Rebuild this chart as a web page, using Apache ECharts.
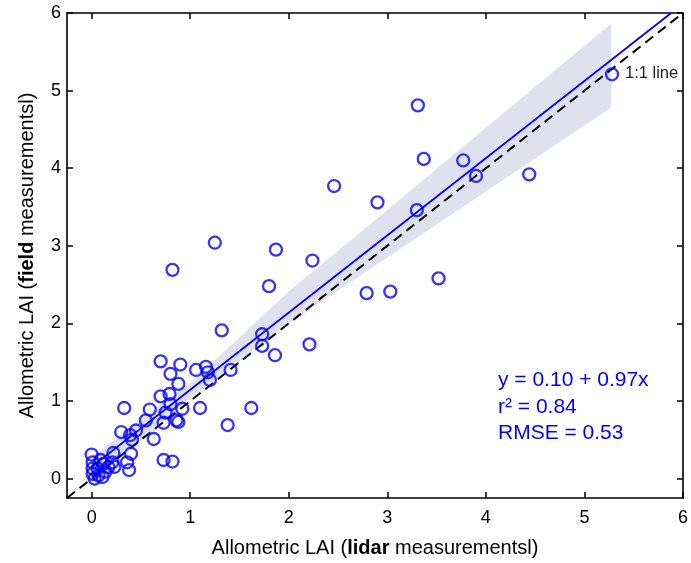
<!DOCTYPE html>
<html>
<head>
<meta charset="utf-8">
<script src="https://cdn.jsdelivr.net/npm/echarts@6/dist/echarts.min.js"></script>
<style>html,body{margin:0;padding:0;background:#fff;}#c{width:691px;height:563px;}</style>
</head>
<body>
<div id="c"></div>
<script>
// ---- data ----
const lidarLAI = [5.28,3.31,3.37,3.77,3.90,4.44,2.90,3.30,2.46,1.25,1.87,2.24,0.82,1.80,2.79,3.03,3.52,1.32,1.73,1.73,1.86,2.21,0.70,0.90,1.06,1.16,1.18,1.20,1.41,0.80,0.88,0.70,0.79,0.80,0.92,1.10,1.62,1.38,0.33,0.59,0.55,0.75,0.73,0.86,0.88,0.45,0.39,0.41,0.30,0.63,0.40,0.36,0.38,0.22,0.23,0.73,0.82,0.00,0.01,0.01,0.06,0.12,0.21,0.14,0.01,0.07,0.11,0.03,0.17,0.09];
const fieldLAI = [5.21,4.81,4.12,4.10,3.90,3.92,3.56,3.46,3.77,3.04,2.95,2.81,2.69,2.48,2.39,2.41,2.58,1.91,1.86,1.71,1.59,1.73,1.51,1.47,1.40,1.44,1.37,1.27,1.40,1.35,1.22,1.06,1.09,0.96,0.90,0.91,0.91,0.69,0.91,0.89,0.75,0.85,0.72,0.75,0.73,0.62,0.56,0.50,0.60,0.51,0.32,0.21,0.11,0.33,0.15,0.24,0.22,0.31,0.21,0.13,0.13,0.19,0.21,0.09,0.06,0.04,0.02,0.00,0.15,0.24];
const fitX = [0, 5.88];
const fitY = [0.15, 6.0];
const oneToOne = [-0.25, 6];
const bandX = [0, 1, 2, 3, 4, 5.27];
const bandLo = [-0.05, 1.03, 2.0, 2.85, 3.70, 4.78];
const bandHi = [0.28, 1.23, 2.41, 3.46, 4.52, 5.86];
const xTicks = [0, 1, 2, 3, 4, 5, 6];
const yTicks = [0, 1, 2, 3, 4, 5, 6];
const eqLines = ['y = 0.10 + 0.97x', 'r\u00b2 = 0.84', 'RMSE = 0.53'];
const lineLabel = '1:1 line';

const FONT = 'Liberation Sans, Arial, Helvetica, sans-serif';
const chart = echarts.init(document.getElementById('c'), null, {renderer: 'canvas'});

const baseAxis = {
  type: 'value', min: -0.25, max: 6,
  splitLine: {show: false},
  axisLine: {show: true, onZero: false, lineStyle: {color: '#000', width: 1.6}},
};

const scatterData = lidarLAI.map((x, i) => [x, fieldLAI[i]]);

const option = {
  animation: false,
  backgroundColor: '#fff',
  grid: {left: 67, right: 8, top: 13, bottom: 64},
  xAxis: [
    Object.assign({}, baseAxis, {
      position: 'bottom',
      axisTick: {show: true, inside: true, length: 6, customValues: xTicks, lineStyle: {color: '#000', width: 1.5}},
      axisLabel: {show: true, customValues: xTicks, fontSize: 18, color: '#000', fontFamily: FONT, margin: 11},
      name: 'Allometric LAI ({b|lidar} measurementsl)',
      nameLocation: 'middle', nameGap: 40,
      nameTextStyle: {fontSize: 20, color: '#000', fontFamily: FONT,
        rich: {b: {fontSize: 20, fontWeight: 'bold', color: '#000', fontFamily: FONT}}}
    }),
    Object.assign({}, baseAxis, {
      position: 'top',
      axisTick: {show: true, inside: true, length: 6, customValues: xTicks, lineStyle: {color: '#000', width: 1.5}},
      axisLabel: {show: false}
    })
  ],
  yAxis: [
    Object.assign({}, baseAxis, {
      position: 'left',
      axisTick: {show: true, inside: true, length: 6, customValues: yTicks, lineStyle: {color: '#000', width: 1.5}},
      axisLabel: {show: true, customValues: yTicks, fontSize: 18, color: '#000', fontFamily: FONT, margin: 6},
      name: 'Allometric LAI ({b|field} measurementsl)',
      nameLocation: 'middle', nameGap: 30,
      nameTextStyle: {fontSize: 20, color: '#000', fontFamily: FONT,
        rich: {b: {fontSize: 20, fontWeight: 'bold', color: '#000', fontFamily: FONT}}}
    }),
    Object.assign({}, baseAxis, {
      position: 'right',
      axisTick: {show: true, inside: true, length: 6, customValues: yTicks, lineStyle: {color: '#000', width: 1.5}},
      axisLabel: {show: false}
    })
  ],
  series: [
    {
      type: 'custom',
      silent: true,
      z: 1,
      data: [0],
      renderItem: function (params, api) {
        const pts = [];
        for (let i = 0; i < bandX.length; i++) pts.push(api.coord([bandX[i], bandHi[i]]));
        for (let i = bandX.length - 1; i >= 0; i--) pts.push(api.coord([bandX[i], bandLo[i]]));
        return {type: 'polygon', shape: {points: pts}, style: {fill: '#dfe1ee', stroke: null}};
      }
    },
    {
      type: 'line', silent: true, z: 2, symbol: 'none',
      data: oneToOne.map(v => [v, v]),
      lineStyle: {color: '#000', width: 2, type: [10, 6]}
    },
    {
      type: 'line', silent: true, z: 3, symbol: 'none',
      data: fitX.map((x, i) => [x, fitY[i]]),
      lineStyle: {color: '#0000ff', width: 1.8}
    },
    {
      type: 'scatter', silent: true, z: 4,
      data: scatterData,
      symbol: 'circle', symbolSize: 12,
      itemStyle: {color: 'rgba(0,0,0,0)', borderColor: '#0000ff', borderWidth: 2.3}
    }
  ],
  graphic: [
    {type: 'text', x: 625, y: 73, style: {text: lineLabel, fontSize: 16.5, fill: '#222', fontFamily: FONT, verticalAlign: 'middle'}},
    {type: 'text', x: 498, y: 380, style: {text: eqLines[0], fontSize: 21, fill: '#0000ff', fontFamily: FONT, verticalAlign: 'middle'}},
    {type: 'text', x: 498, y: 407, style: {text: eqLines[1], fontSize: 21, fill: '#0000ff', fontFamily: FONT, verticalAlign: 'middle'}},
    {type: 'text', x: 498, y: 433, style: {text: eqLines[2], fontSize: 21, fill: '#0000ff', fontFamily: FONT, verticalAlign: 'middle'}}
  ]
};
chart.setOption(option);
</script>
</body>
</html>
